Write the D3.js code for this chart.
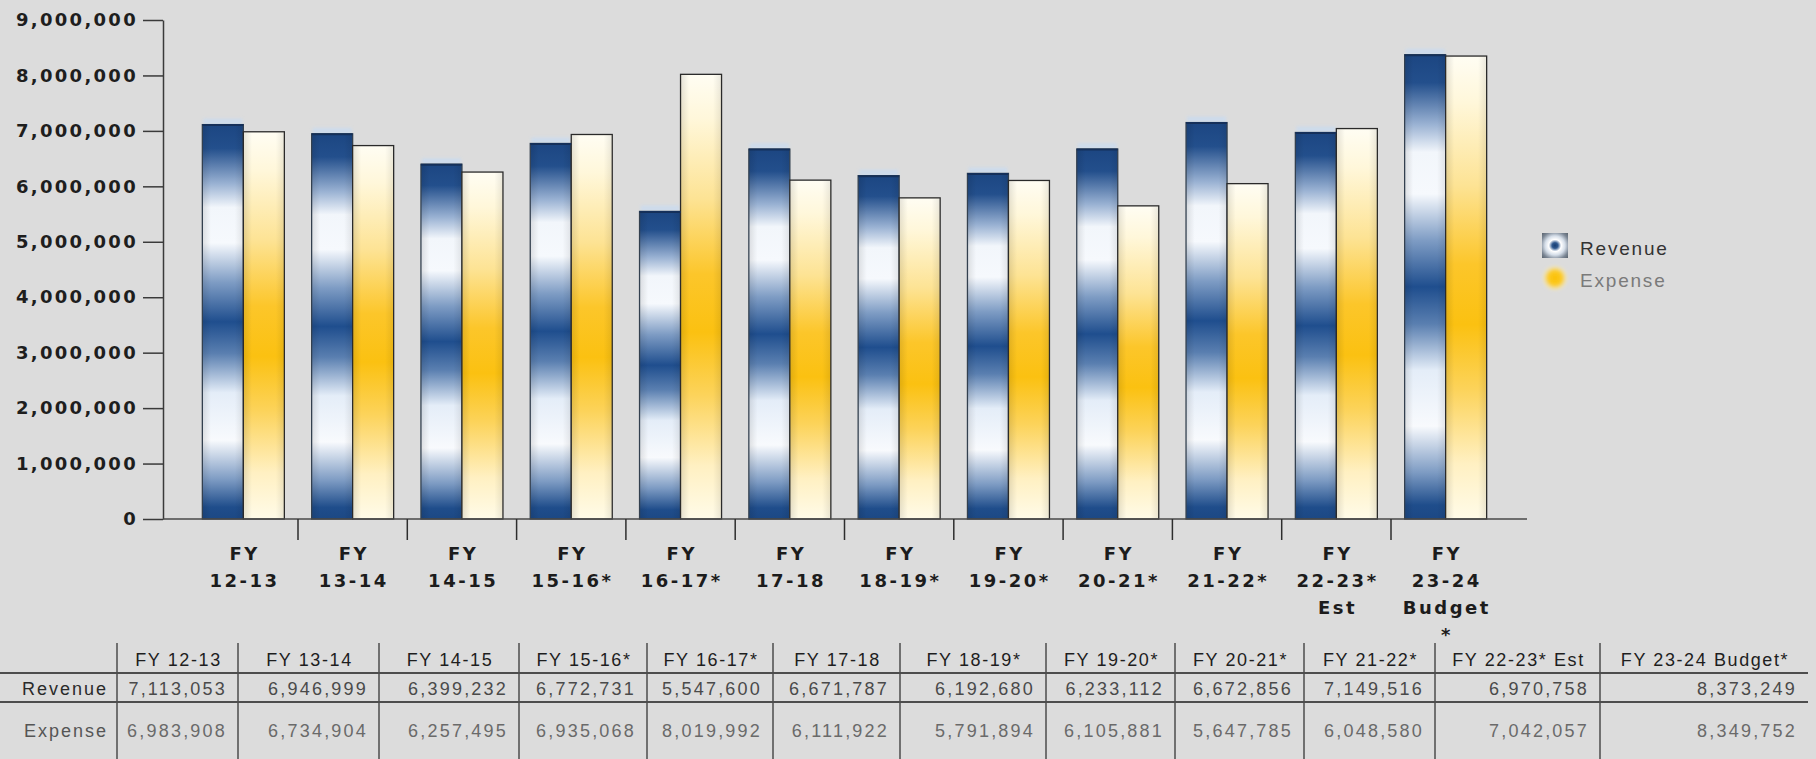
<!DOCTYPE html>
<html>
<head>
<meta charset="utf-8">
<script src="https://cdn.jsdelivr.net/npm/d3@7"></script>
<style>
  html, body { margin: 0; padding: 0; background: #dcdcdc; }
  svg { display: block; }
</style>
</head>
<body>
<svg id="chart" width="1816" height="759"></svg>
<script>
// ---- data ----
const categories = ["FY 12-13", "FY 13-14", "FY 14-15", "FY 15-16*", "FY 16-17*", "FY 17-18",
  "FY 18-19*", "FY 19-20*", "FY 20-21*", "FY 21-22*", "FY 22-23* Est", "FY 23-24 Budget*"];
const axisLabels = ["FY\n12-13", "FY\n13-14", "FY\n14-15", "FY\n15-16*", "FY\n16-17*", "FY\n17-18",
  "FY\n18-19*", "FY\n19-20*", "FY\n20-21*", "FY\n21-22*", "FY\n22-23*\nEst", "FY\n23-24\nBudget\n*"];
const seriesNames = ["Revenue", "Expense"];
const revenue = [7113053, 6946999, 6399232, 6772731, 5547600, 6671787, 6192680, 6233112, 6672856, 7149516, 6970758, 8373249];
const expense = [6983908, 6734904, 6257495, 6935068, 8019992, 6111922, 5791894, 6105881, 5647785, 6048580, 7042057, 8349752];
const yTicks = [0, 1000000, 2000000, 3000000, 4000000, 5000000, 6000000, 7000000, 8000000, 9000000];

// ---- layout ----
const plot = { left: 163, right: 1527, top: 20, bottom: 519 };
const bandRange = [188.7, 1500.3];
const tableCols = [117, 121, 141, 140, 128, 126, 127, 146, 129, 129, 131, 165, 208]; // label column, then one per category
const table = { top: 643, bottom: 759, line1: 673, line2: 702, head: 666, row1: 695, row2: 737 };

const svg = d3.select("#chart");
const defs = svg.append("defs");

// Revenue: banded navy / white vertical gradient
const revGrad = defs.append("linearGradient").attr("id", "revGrad")
  .attr("x1", 0).attr("y1", 0).attr("x2", 0).attr("y2", 1);
[[0, "#1c4682"], [0.06, "#234f8c"], [0.15, "#9ab2d3"], [0.21, "#f2f6fb"], [0.3, "#f6f9fd"],
 [0.4, "#7e9cc4"], [0.5, "#1f4e8e"], [0.58, "#5a7fb0"], [0.68, "#e4edf8"], [0.8, "#f8fafd"],
 [0.9, "#7d9bc3"], [0.97, "#1f4d8b"], [1, "#1c4884"]]
  .forEach(([o, c]) => revGrad.append("stop").attr("offset", o).attr("stop-color", c));

// Expense: cream to gold to cream
const expGrad = defs.append("linearGradient").attr("id", "expGrad")
  .attr("x1", 0).attr("y1", 0).attr("x2", 0).attr("y2", 1);
[[0, "#fffdf3"], [0.1, "#fff7da"], [0.28, "#fde394"], [0.45, "#fcc62a"], [0.58, "#fbc111"],
 [0.72, "#fcd35a"], [0.88, "#fff0c2"], [1, "#fffbe8"]]
  .forEach(([o, c]) => expGrad.append("stop").attr("offset", o).attr("stop-color", c));

// side shading for a slightly rounded look
const sideGrad = defs.append("linearGradient").attr("id", "sideGrad")
  .attr("x1", 0).attr("y1", 0).attr("x2", 1).attr("y2", 0);
[[0, "#000", 0.10], [0.2, "#000", 0], [0.8, "#000", 0], [1, "#000", 0.08]]
  .forEach(([o, c, a]) => sideGrad.append("stop").attr("offset", o).attr("stop-color", c).attr("stop-opacity", a));

defs.append("filter").attr("id", "soft").attr("x", "-50%").attr("y", "-50%").attr("width", "200%").attr("height", "200%")
  .append("feGaussianBlur").attr("stdDeviation", 1.6);

// legend swatches
const legRev = defs.append("radialGradient").attr("id", "legRev").attr("cx", 0.5).attr("cy", 0.5).attr("r", 0.7);
[[0, "#183e72"], [0.16, "#30598f"], [0.34, "#ffffff"], [0.55, "#d4dde8"], [0.8, "#7b8694"], [1, "#5c6570"]]
  .forEach(([o, c]) => legRev.append("stop").attr("offset", o).attr("stop-color", c));
const legExp = defs.append("radialGradient").attr("id", "legExp");
[[0, "#fbbf00", 1], [0.55, "#fccb2a", 1], [1, "#fdeeb8", 0.2]]
  .forEach(([o, c, a]) => legExp.append("stop").attr("offset", o).attr("stop-color", c).attr("stop-opacity", a));

// ---- scales ----
const x0 = d3.scaleBand().domain(categories).range(bandRange).paddingInner(0).paddingOuter(0);
const x1 = d3.scaleBand().domain(seriesNames).range([0, x0.bandwidth()]).paddingInner(0).paddingOuter(0.333);
const y = d3.scaleLinear().domain([0, 9000000]).range([plot.bottom, plot.top]);

const rows = categories.map((c, i) => ({ cat: c, values: [
  { key: "Revenue", value: revenue[i] }, { key: "Expense", value: expense[i] }] }));

// ---- bars ----
const groups = svg.append("g").selectAll("g").data(rows).join("g")
  .attr("transform", d => `translate(${x0(d.cat)},0)`);

// light haze above the revenue bar tops
groups.selectAll("rect.glow").data(d => d.values.filter(v => v.key === "Revenue")).join("rect").attr("class", "glow")
  .attr("x", d => x1(d.key) + 1)
  .attr("y", d => y(d.value) - 6)
  .attr("width", x1.bandwidth() - 2)
  .attr("height", 6)
  .attr("fill", "#c9dbf0").attr("opacity", 0.8)
  .attr("filter", "url(#soft)");

groups.selectAll("rect.bar").data(d => d.values).join("rect").attr("class", "bar")
  .attr("x", d => x1(d.key))
  .attr("y", d => y(d.value))
  .attr("width", x1.bandwidth())
  .attr("height", d => y(0) - y(d.value))
  .attr("fill", d => d.key === "Revenue" ? "url(#revGrad)" : "url(#expGrad)")
  .attr("stroke", d => d.key === "Revenue" ? "#33404f" : "#2a2a2a")
  .attr("stroke-width", 1.3);

groups.selectAll("rect.shade").data(d => d.values).join("rect").attr("class", "shade")
  .attr("x", d => x1(d.key) + 0.7)
  .attr("y", d => y(d.value) + 0.7)
  .attr("width", x1.bandwidth() - 1.4)
  .attr("height", d => y(0) - y(d.value) - 1.4)
  .attr("fill", "url(#sideGrad)");

// darker cap on revenue bars
groups.selectAll("line.cap").data(d => d.values.filter(v => v.key === "Revenue")).join("line").attr("class", "cap")
  .attr("x1", d => x1(d.key)).attr("x2", d => x1(d.key) + x1.bandwidth())
  .attr("y1", d => y(d.value) + 0.5).attr("y2", d => y(d.value) + 0.5)
  .attr("stroke", "#15305a").attr("stroke-width", 2);

// ---- y axis ----
const yAxis = svg.append("g").attr("transform", `translate(${plot.left},0)`)
  .call(d3.axisLeft(y).tickValues(yTicks).tickFormat(d3.format(",")).tickSize(20).tickSizeOuter(0).tickPadding(5));
yAxis.select(".domain").attr("stroke", "#3a3a3a").attr("stroke-width", 1.5);
yAxis.selectAll(".tick line").attr("stroke", "#3a3a3a").attr("stroke-width", 1.5);
yAxis.selectAll(".tick text")
  .attr("font-family", "'DejaVu Sans', Verdana, sans-serif")
  .attr("font-weight", "bold").attr("font-size", 18)
  .attr("letter-spacing", "2.3px").attr("fill", "#1e1e1e");

// ---- x axis ----
svg.append("line").attr("x1", plot.left).attr("x2", plot.right)
  .attr("y1", plot.bottom).attr("y2", plot.bottom)
  .attr("stroke", "#4a4a4a").attr("stroke-width", 1.5);

// separators between categories
svg.append("g").selectAll("line").data(categories.slice(1)).join("line")
  .attr("x1", d => x0(d)).attr("x2", d => x0(d))
  .attr("y1", plot.bottom).attr("y2", plot.bottom + 21)
  .attr("stroke", "#2e2e2e").attr("stroke-width", 1.5);

const xAxis = svg.append("g").attr("transform", `translate(0,${plot.bottom})`)
  .call(d3.axisBottom(x0).tickSize(0).tickPadding(0).tickFormat(""));
xAxis.select(".domain").remove();
xAxis.selectAll(".tick").each(function(d, i) {
  const t = d3.select(this).select("text")
    .attr("y", 41).attr("dy", null)
    .attr("font-family", "'DejaVu Sans', Verdana, sans-serif")
    .attr("font-weight", "bold").attr("font-size", 18)
    .attr("letter-spacing", "2.5px").attr("fill", "#1c1c1c")
    .attr("text-anchor", "middle");
  axisLabels[i].split("\n").forEach((line, k) => {
    t.append("tspan").attr("x", 1.2).attr("dy", k === 0 ? 0 : 27).text(line);
  });
});

// ---- legend ----
const legend = svg.append("g");
legend.append("rect").attr("x", 1542).attr("y", 233).attr("width", 26).attr("height", 25)
  .attr("fill", "url(#legRev)");
legend.append("text").attr("x", 1580).attr("y", 255).text("Revenue")
  .attr("font-family", "'Liberation Sans', Arial, sans-serif").attr("font-size", 19)
  .attr("letter-spacing", "1.8px").attr("fill", "#333");
legend.append("circle").attr("cx", 1555).attr("cy", 278).attr("r", 13)
  .attr("fill", "url(#legExp)").attr("filter", "url(#soft)");
legend.append("text").attr("x", 1580).attr("y", 287).text("Expense")
  .attr("font-family", "'Liberation Sans', Arial, sans-serif").attr("font-size", 19)
  .attr("letter-spacing", "1.8px").attr("fill", "#7a7a7a");

// ---- data table ----
const fmt = d3.format(",");
const edges = [0];
tableCols.forEach(w => edges.push(edges[edges.length - 1] + w));
const tbl = svg.append("g");
const tFont = "'Liberation Sans', Arial, sans-serif";

tbl.selectAll("line.h").data([table.line1, table.line2]).join("line").attr("class", "h")
  .attr("x1", 0).attr("x2", edges[edges.length - 1])
  .attr("y1", d => d).attr("y2", d => d)
  .attr("stroke", "#4d4d4d").attr("stroke-width", 2);

tbl.selectAll("line.v").data(edges.slice(1, -1)).join("line").attr("class", "v")
  .attr("x1", d => d).attr("x2", d => d)
  .attr("y1", table.top).attr("y2", table.bottom)
  .attr("stroke", "#4d4d4d").attr("stroke-width", 1.5);

// row headings
tbl.selectAll("text.rowhead").data(seriesNames).join("text").attr("class", "rowhead")
  .attr("x", edges[1] - 9).attr("y", (d, i) => i === 0 ? table.row1 : table.row2)
  .attr("text-anchor", "end").text(d => d)
  .attr("font-family", tFont).attr("font-size", 18).attr("letter-spacing", "2px")
  .attr("fill", (d, i) => i === 0 ? "#2a2a2a" : "#555");

// column headings
tbl.selectAll("text.colhead").data(categories).join("text").attr("class", "colhead")
  .attr("x", (d, i) => (edges[i + 1] + edges[i + 2]) / 2 + 1)
  .attr("y", table.head).attr("text-anchor", "middle").text(d => d)
  .attr("font-family", tFont).attr("font-size", 18).attr("letter-spacing", "1.6px")
  .attr("fill", "#1e1e1e");

// values
[revenue, expense].forEach((series, r) => {
  tbl.selectAll(`text.val${r}`).data(series).join("text").attr("class", `val${r}`)
    .attr("x", (d, i) => edges[i + 2] - 11)
    .attr("y", r === 0 ? table.row1 : table.row2)
    .attr("text-anchor", "end").text(d => fmt(d))
    .attr("font-family", tFont).attr("font-size", 18).attr("letter-spacing", "2.2px")
    .attr("fill", r === 0 ? "#4a4a4a" : "#6a6a6a");
});
</script>
</body>
</html>
